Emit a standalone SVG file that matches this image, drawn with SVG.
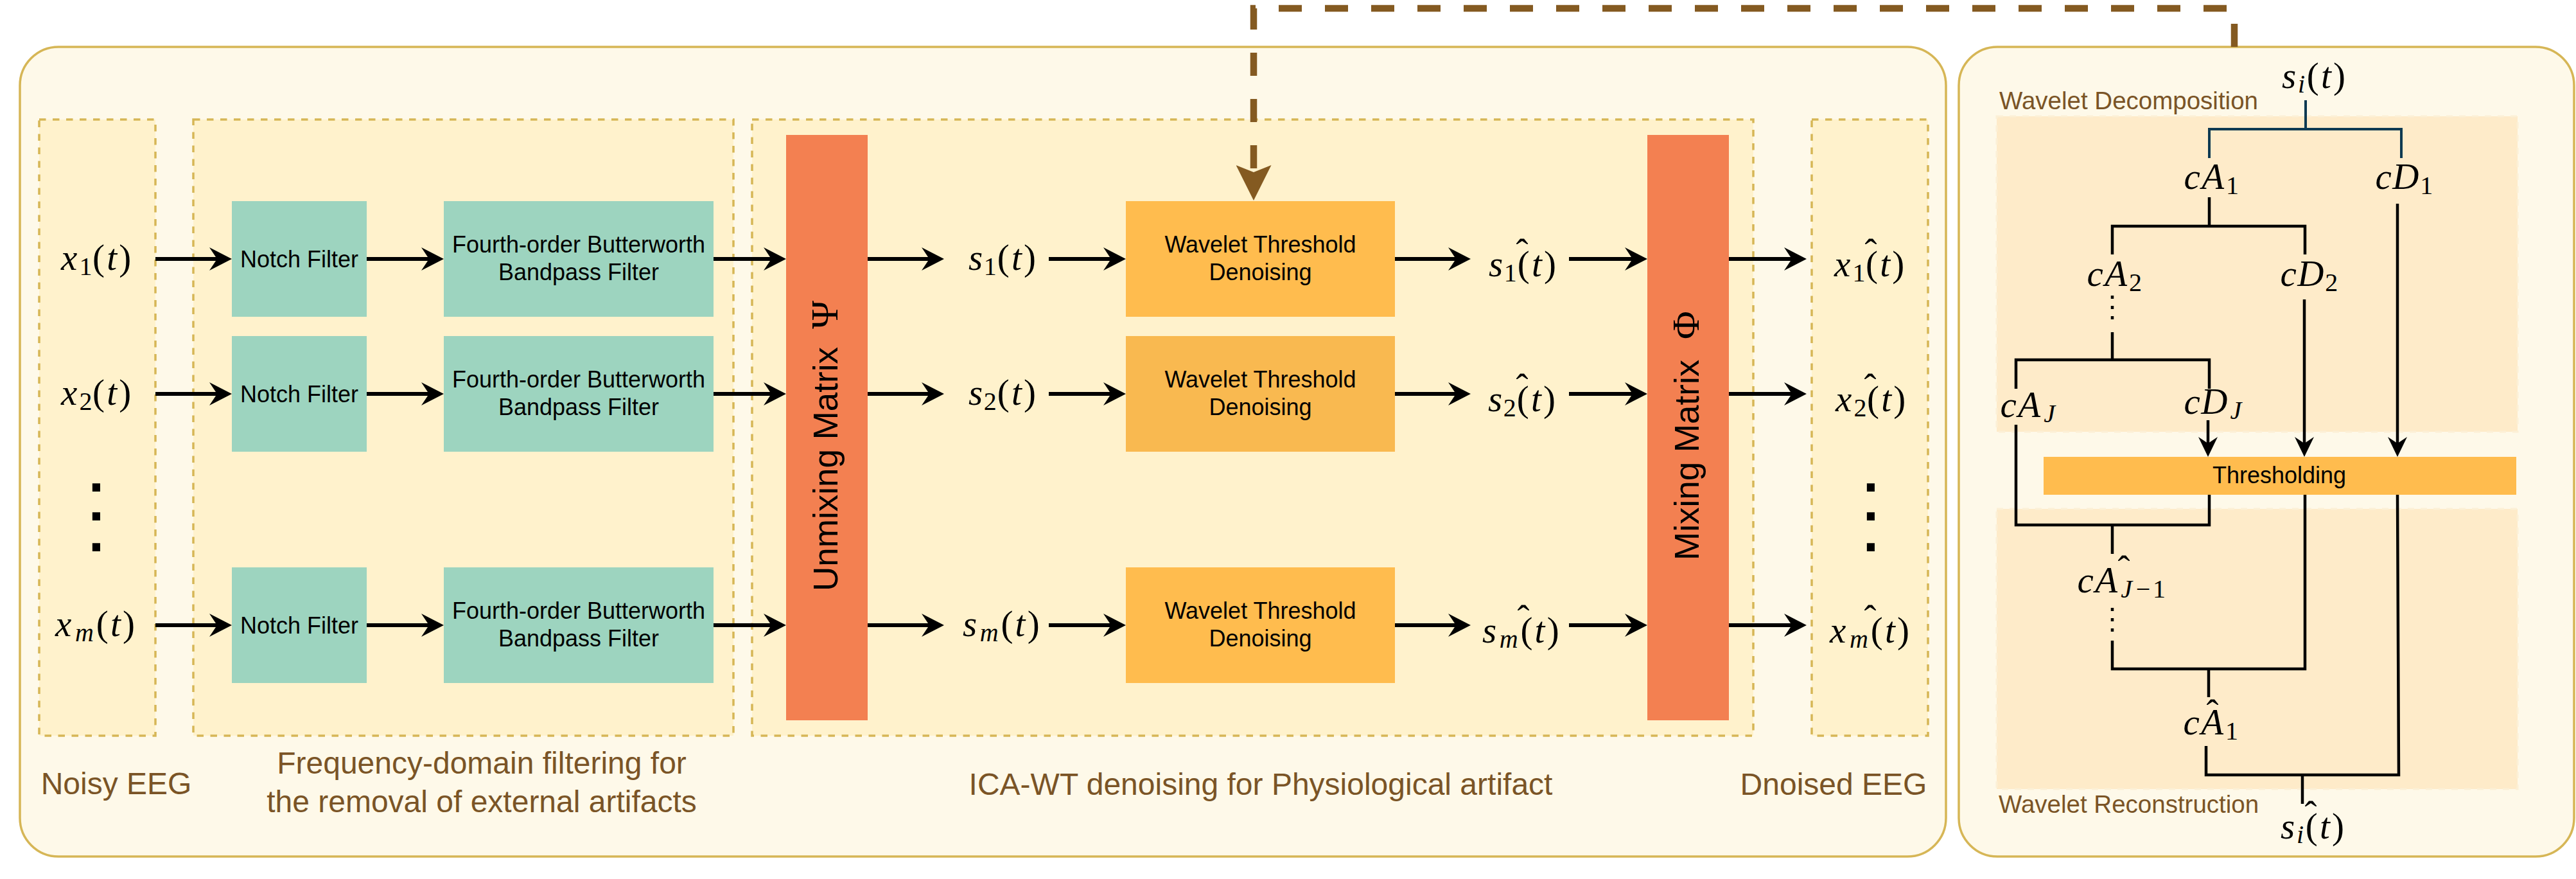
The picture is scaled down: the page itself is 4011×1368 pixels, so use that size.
<svg xmlns="http://www.w3.org/2000/svg" width="4011" height="1368" viewBox="0 0 4011 1368">
<defs>
<style>
.panel{fill:#FEF9E9;stroke:#D6B656;stroke-width:3.5}
.col{fill:#FFF2CC;stroke:#D6B656;stroke-width:3.5;stroke-dasharray:10.5 10.5}
.teal{fill:#9DD4BF}
.bar{fill:#F38051}
.wt{fill:#FFBC4E}
.wt2{fill:#F9B950}
.reg{fill:#FEEBC9;stroke:#FCF0D6;stroke-width:3;stroke-dasharray:10 10}
.t36{font-family:"Liberation Sans",Arial,sans-serif;font-size:36px;fill:#000;text-anchor:middle}
.lab{font-family:"Liberation Sans",Arial,sans-serif;font-size:48px;fill:#7A5426;text-anchor:middle}
.lab2{font-family:"Liberation Sans",Arial,sans-serif;font-size:38.5px;fill:#7A5426}
.rot{font-family:"Liberation Sans",Arial,sans-serif;font-size:53px;fill:#000}
.gr{font-family:"Liberation Serif","Times New Roman",serif;font-size:60px}
.m{font-family:"Liberation Serif","Times New Roman",serif;font-size:57px;fill:#000}
.i{font-style:italic}
.sb{font-size:40px}
.dots{font-family:"Liberation Sans",Arial,sans-serif;font-size:86px;font-weight:bold;fill:#000;text-anchor:middle}
.flow{fill:none;stroke:#000;stroke-width:6}
.tree{fill:none;stroke:#000;stroke-width:4.5}
.navy{fill:none;stroke:#0E3A52;stroke-width:4}
.dot{stroke-dasharray:5 11}
.brown{fill:none;stroke:#845A21;stroke-width:10.5;stroke-dasharray:36 36}
</style>
<marker id="ah" markerUnits="userSpaceOnUse" viewBox="0 0 35 36" markerWidth="35" markerHeight="36" refX="14" refY="18" orient="auto"><path d="M35,18 L0,0 L12,18 L0,36 Z" fill="#000"/></marker>
<marker id="ahs" markerUnits="userSpaceOnUse" viewBox="0 0 31 30" markerWidth="31" markerHeight="30" refX="12" refY="15" orient="auto"><path d="M31,15 L0,0 L10,15 L0,30 Z" fill="#000"/></marker>
<marker id="ahb" markerUnits="userSpaceOnUse" viewBox="0 0 55 55" markerWidth="55" markerHeight="55" refX="13" refY="27.5" orient="auto"><path d="M55,27.5 L0,0 L11,27.5 L0,55 Z" fill="#845A21"/></marker>
</defs>

<g id="panel-main"><rect class="panel" x="31" y="73" width="2999" height="1260" rx="60" ry="60"/></g>
<g id="panel-wavelet"><rect class="panel" x="3050" y="73" width="958" height="1260" rx="60" ry="60"/></g>

<g id="col-noisy"><rect class="col" x="61" y="186" width="181" height="959"/>
<text class="lab" x="181" y="1236">Noisy EEG</text></g>
<g id="col-freq"><rect class="col" x="301" y="186" width="841" height="959"/>
<text class="lab" x="750" y="1204">Frequency-domain filtering for</text>
<text class="lab" x="750" y="1264">the removal of external artifacts</text></g>
<g id="col-ica"><rect class="col" x="1171" y="186" width="1559" height="959"/>
<text class="lab" x="1963" y="1237">ICA-WT denoising for Physiological artifact</text></g>
<g id="col-dnoised"><rect class="col" x="2821" y="186" width="181" height="959"/>
<text class="lab" x="2855" y="1237">Dnoised EEG</text></g>

<g id="region-decomp"><rect class="reg" x="3109" y="181" width="811" height="491"/>
<text class="lab2" x="3113" y="170">Wavelet Decomposition</text></g>
<g id="region-recon"><rect class="reg" x="3109" y="792" width="811" height="436"/>
<text class="lab2" x="3112" y="1265">Wavelet Reconstruction</text></g>

<!-- inputs -->
<g id="x1"><text class="m" y="420"><tspan class="i" x="95">x</tspan><tspan class="sb" x="123.5" y="428">1</tspan><tspan x="144" y="420">(</tspan><tspan class="i" x="166.3">t</tspan><tspan x="185.3">)</tspan></text></g>
<g id="x2"><text class="m" y="630"><tspan class="i" x="95">x</tspan><tspan class="sb" x="123.5" y="638">2</tspan><tspan x="144" y="630">(</tspan><tspan class="i" x="166.3">t</tspan><tspan x="185.3">)</tspan></text></g>
<g id="xm"><text class="m" y="990"><tspan class="i" x="86">x</tspan><tspan class="sb i" x="117" y="998">m</tspan><tspan x="149.7" y="990">(</tspan><tspan class="i" x="172">t</tspan><tspan x="191">)</tspan></text></g>
<g id="dots-in"><text class="dots"><tspan x="150" y="765">.</tspan><tspan x="150" y="810">.</tspan><tspan x="150" y="858">.</tspan></text></g>

<!-- filters -->
<g id="notch1"><rect class="teal" x="361" y="313" width="210" height="180"/><text class="t36" x="466" y="416">Notch Filter</text></g>
<g id="notch2"><rect class="teal" x="361" y="523" width="210" height="180"/><text class="t36" x="466" y="626">Notch Filter</text></g>
<g id="notch3"><rect class="teal" x="361" y="883" width="210" height="180"/><text class="t36" x="466" y="986">Notch Filter</text></g>
<g id="bw1"><rect class="teal" x="691" y="313" width="420" height="180"/><text class="t36" x="901" y="393">Fourth-order Butterworth</text><text class="t36" x="901" y="436">Bandpass Filter</text></g>
<g id="bw2"><rect class="teal" x="691" y="523" width="420" height="180"/><text class="t36" x="901" y="603">Fourth-order Butterworth</text><text class="t36" x="901" y="646">Bandpass Filter</text></g>
<g id="bw3"><rect class="teal" x="691" y="883" width="420" height="180"/><text class="t36" x="901" y="963">Fourth-order Butterworth</text><text class="t36" x="901" y="1006">Bandpass Filter</text></g>

<!-- unmixing -->
<g id="unmixing"><rect class="bar" x="1224" y="210" width="127" height="911"/>
<text class="rot" transform="translate(1304,920) rotate(-90)"><tspan x="0" y="0">Unmixing Matrix</tspan><tspan class="gr" x="408" y="0">Ψ</tspan></text></g>

<g id="s1"><text class="m" y="420"><tspan class="i" x="1508">s</tspan><tspan class="sb" x="1531.8" y="428">1</tspan><tspan x="1552.7" y="420">(</tspan><tspan class="i" x="1574.9">t</tspan><tspan x="1594">)</tspan></text></g>
<g id="s2"><text class="m" y="630"><tspan class="i" x="1508">s</tspan><tspan class="sb" x="1531.8" y="638">2</tspan><tspan x="1552.7" y="630">(</tspan><tspan class="i" x="1574.9">t</tspan><tspan x="1594">)</tspan></text></g>
<g id="sm"><text class="m" y="990"><tspan class="i" x="1499">s</tspan><tspan class="sb i" x="1525.8" y="998">m</tspan><tspan x="1558.4" y="990">(</tspan><tspan class="i" x="1580.6">t</tspan><tspan x="1599.7">)</tspan></text></g>

<g id="wt1"><rect class="wt" x="1753" y="313" width="419" height="180"/><text class="t36" x="1962.5" y="393">Wavelet Threshold</text><text class="t36" x="1962.5" y="436">Denoising</text></g>
<g id="wt2"><rect class="wt2" x="1753" y="523" width="419" height="180"/><text class="t36" x="1962.5" y="603">Wavelet Threshold</text><text class="t36" x="1962.5" y="646">Denoising</text></g>
<g id="wt3"><rect class="wt" x="1753" y="883" width="419" height="180"/><text class="t36" x="1962.5" y="963">Wavelet Threshold</text><text class="t36" x="1962.5" y="1006">Denoising</text></g>

<g id="sh1"><text class="m" y="430"><tspan class="i" x="2318">s</tspan><tspan class="sb" x="2341.8" y="438">1</tspan><tspan x="2362.7" y="430">(</tspan><tspan class="i" x="2384.9">t</tspan><tspan x="2404">)</tspan><tspan x="2360.5" y="411">ˆ</tspan></text></g>
<g id="sh2"><text class="m" y="640"><tspan class="i" x="2317">s</tspan><tspan class="sb" x="2340.8" y="648">2</tspan><tspan x="2361.7" y="640">(</tspan><tspan class="i" x="2383.9">t</tspan><tspan x="2403">)</tspan><tspan x="2360.5" y="621">ˆ</tspan></text></g>
<g id="shm"><text class="m" y="1000"><tspan class="i" x="2308">s</tspan><tspan class="sb i" x="2334.8" y="1008">m</tspan><tspan x="2367.4" y="1000">(</tspan><tspan class="i" x="2389.6">t</tspan><tspan x="2408.7">)</tspan><tspan x="2362.5" y="981">ˆ</tspan></text></g>

<g id="mixing"><rect class="bar" x="2565" y="210" width="127" height="911"/>
<text class="rot" transform="translate(2645,872) rotate(-90)"><tspan x="0" y="0">Mixing Matrix</tspan><tspan class="gr" x="344" y="0">Φ</tspan></text></g>

<g id="xh1"><text class="m" y="430"><tspan class="i" x="2856">x</tspan><tspan class="sb" x="2884.5" y="438">1</tspan><tspan x="2905" y="430">(</tspan><tspan class="i" x="2927.3">t</tspan><tspan x="2946.3">)</tspan><tspan x="2903.5" y="411">ˆ</tspan></text></g>
<g id="xh2"><text class="m" y="640"><tspan class="i" x="2858">x</tspan><tspan class="sb" x="2886.5" y="648">2</tspan><tspan x="2907" y="640">(</tspan><tspan class="i" x="2929.3">t</tspan><tspan x="2948.3">)</tspan><tspan x="2902.5" y="621">ˆ</tspan></text></g>
<g id="xhm"><text class="m" y="1000"><tspan class="i" x="2849">x</tspan><tspan class="sb i" x="2880" y="1008">m</tspan><tspan x="2912.7" y="1000">(</tspan><tspan class="i" x="2935">t</tspan><tspan x="2954">)</tspan><tspan x="2902.5" y="981">ˆ</tspan></text></g>
<g id="dots-out"><text class="dots"><tspan x="2913" y="765">.</tspan><tspan x="2913" y="810">.</tspan><tspan x="2913" y="858">.</tspan></text></g>

<!-- wavelet tree nodes -->
<g id="si"><text class="m" y="137"><tspan class="i" x="3553">s</tspan><tspan class="sb i" x="3578.1" y="144">i</tspan><tspan x="3591.7" y="137">(</tspan><tspan class="i" x="3613.9">t</tspan><tspan x="3633">)</tspan></text></g>
<g id="cA1"><text class="m" y="294"><tspan class="i" x="3400.5">c</tspan><tspan class="i" x="3428.3">A</tspan><tspan class="sb" x="3466.1" y="302">1</tspan></text></g>
<g id="cD1"><text class="m" y="294"><tspan class="i" x="3698.5">c</tspan><tspan class="i" x="3725.3">D</tspan><tspan class="sb" x="3768.3" y="302">1</tspan></text></g>
<g id="cA2"><text class="m" y="445"><tspan class="i" x="3249.5">c</tspan><tspan class="i" x="3277.3">A</tspan><tspan class="sb" x="3315.1" y="453">2</tspan></text></g>
<g id="cD2"><text class="m" y="445"><tspan class="i" x="3550.5">c</tspan><tspan class="i" x="3577.3">D</tspan><tspan class="sb" x="3620.3" y="453">2</tspan></text></g>
<g id="cAJ"><text class="m" y="649"><tspan class="i" x="3114.5">c</tspan><tspan class="i" x="3142.3">A</tspan><tspan class="sb i" x="3182.3" y="657">J</tspan></text></g>
<g id="cDJ"><text class="m" y="644"><tspan class="i" x="3400.5">c</tspan><tspan class="i" x="3427.3">D</tspan><tspan class="sb i" x="3472.5" y="652">J</tspan></text></g>
<g id="thresholding"><rect class="wt" x="3182" y="711" width="736" height="59"/><text class="t36" x="3549" y="752">Thresholding</text></g>
<g id="cAhJ1"><text class="m" y="922"><tspan class="i" x="3234.5">c</tspan><tspan class="i" x="3262.3">A</tspan><tspan class="sb i" x="3302.3" y="930">J</tspan><tspan class="sb" x="3325.8" y="930">−</tspan><tspan class="sb" x="3352" y="930">1</tspan><tspan x="3297.5" y="904">ˆ</tspan></text></g>
<g id="cAh1"><text class="m" y="1143"><tspan class="i" x="3399.5">c</tspan><tspan class="i" x="3427.3">A</tspan><tspan class="sb" x="3465.1" y="1151">1</tspan><tspan x="3435.5" y="1128">ˆ</tspan></text></g>
<g id="sih"><text class="m" y="1305"><tspan class="i" x="3551">s</tspan><tspan class="sb i" x="3576.1" y="1312">i</tspan><tspan x="3589.7" y="1305">(</tspan><tspan class="i" x="3611.9">t</tspan><tspan x="3631">)</tspan><tspan x="3588.5" y="1286">ˆ</tspan></text></g>

<g id="connectors">
<path class="flow" d="M242,403 H340" marker-end="url(#ah)"/>
<path class="flow" d="M242,613 H340" marker-end="url(#ah)"/>
<path class="flow" d="M242,973 H340" marker-end="url(#ah)"/>
<path class="flow" d="M571,403 H670" marker-end="url(#ah)"/>
<path class="flow" d="M571,613 H670" marker-end="url(#ah)"/>
<path class="flow" d="M571,973 H670" marker-end="url(#ah)"/>
<path class="flow" d="M1111,403 H1203" marker-end="url(#ah)"/>
<path class="flow" d="M1111,613 H1203" marker-end="url(#ah)"/>
<path class="flow" d="M1111,973 H1203" marker-end="url(#ah)"/>
<path class="flow" d="M1351,403 H1449" marker-end="url(#ah)"/>
<path class="flow" d="M1351,613 H1449" marker-end="url(#ah)"/>
<path class="flow" d="M1351,973 H1449" marker-end="url(#ah)"/>
<path class="flow" d="M1633,403 H1732" marker-end="url(#ah)"/>
<path class="flow" d="M1633,613 H1732" marker-end="url(#ah)"/>
<path class="flow" d="M1633,973 H1732" marker-end="url(#ah)"/>
<path class="flow" d="M2172,403 H2269" marker-end="url(#ah)"/>
<path class="flow" d="M2172,613 H2269" marker-end="url(#ah)"/>
<path class="flow" d="M2172,973 H2269" marker-end="url(#ah)"/>
<path class="flow" d="M2443,403 H2544" marker-end="url(#ah)"/>
<path class="flow" d="M2443,613 H2544" marker-end="url(#ah)"/>
<path class="flow" d="M2443,973 H2544" marker-end="url(#ah)"/>
<path class="flow" d="M2692,403 H2792" marker-end="url(#ah)"/>
<path class="flow" d="M2692,613 H2792" marker-end="url(#ah)"/>
<path class="flow" d="M2692,973 H2792" marker-end="url(#ah)"/>

<path class="brown" d="M3479,73 V13 H1952 V270" marker-end="url(#ahb)"/>

<path class="navy" d="M3590,156 V201 M3440,246 V201 H3739 V246"/>
<path class="tree" d="M3440,307 V352 M3289,396 V352 H3589 V396"/>
<path class="tree dot" d="M3289,460 V500"/>
<path class="tree" d="M3289,517 V560 M3139,605 V560 H3440 V605"/>
<path class="tree" d="M3438,654 V692" marker-end="url(#ahs)"/>
<path class="tree" d="M3588,466 V692" marker-end="url(#ahs)"/>
<path class="tree" d="M3733,317 V692" marker-end="url(#ahs)"/>
<path class="tree" d="M3139,661 V817 H3440 V770 M3289,817 V862"/>
<path class="tree dot" d="M3289,946 V986"/>
<path class="tree" d="M3289,997 V1041 H3589 V770 M3439,1041 V1085"/>
<path class="tree" d="M3435,1161 V1206 H3735 L3733,770 M3585,1206 V1251"/>
</g>
</svg>
